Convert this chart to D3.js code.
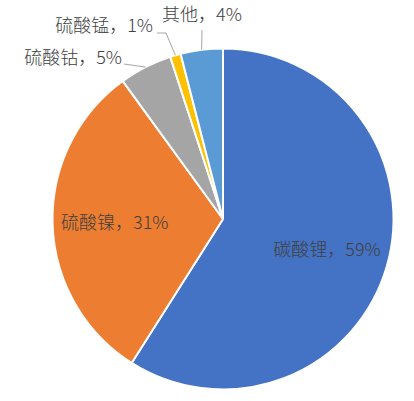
<!DOCTYPE html>
<html>
<head>
<meta charset="utf-8">
<script src="https://cdn.jsdelivr.net/npm/d3@7"></script>
<style>
  html, body { margin: 0; padding: 0; background: #fff; }
  svg { display: block; }
</style>
</head>
<body>
<div class="canvas-graph"></div>
<script>
const categories = ['碳酸锂', '硫酸镍', '硫酸钴', '硫酸锰', '其他'];
const shares = [59, 31, 5, 1, 4];
const colors = ['#4472C4', '#ED7D31', '#A5A5A5', '#FFC000', '#5B9BD5'];

const dims = { width: 414, height: 401, radius: 170.5 };
const cent = { x: 223, y: 219 };

const pieData = categories.map((c, i) => ({ type: c, value: shares[i] }));

const svg = d3.select('.canvas-graph')
    .append('svg')
    .attr('width', dims.width)
    .attr('height', dims.height);

const graph = svg.append('g')
    .attr('transform', `translate(${cent.x}, ${cent.y})`);

const pie = d3.pie()
    .sort(null)
    .value(d => d.value);

const arcPath = d3.arc()
    .outerRadius(dims.radius)
    .innerRadius(0);

const edgeArc = d3.arc()
    .outerRadius(dims.radius)
    .innerRadius(dims.radius);

const labelArc = d3.arc()
    .outerRadius(dims.radius * 0.635)
    .innerRadius(dims.radius * 0.635);

const color = d3.scaleOrdinal(colors).domain(categories);

const arcs = pie(pieData);

graph.selectAll('path')
    .data(arcs)
    .enter()
    .append('path')
    .attr('d', arcPath)
    .attr('stroke', '#fff')
    .attr('stroke-width', 2)
    .attr('stroke-linejoin', 'round')
    .attr('fill', d => color(d.data.type));

// outside labels for the thin slices (offsets relative to pie centre)
const outside = {
    '硫酸钴': { lx: -101, ly: -161.5, anchor: 'end', line: [[-99, -155]] },
    '硫酸锰': { lx: -70, ly: -193, anchor: 'end', line: [[-57, -186], [-66, -186]] },
    '其他': { lx: -21, ly: -204.5, anchor: 'middle', line: [[-21, -189]] }
};

const fontSize = 18;
const labels = svg.append('g')
    .attr('font-family', '"Noto Sans CJK SC", "Noto Sans", sans-serif')
    .attr('font-size', fontSize)
    .attr('font-weight', 300)
    .attr('fill', '#404040');

const lineGen = d3.line();

arcs.forEach(d => {
    const text = `${d.data.type}，${d.data.value}%`;
    const o = outside[d.data.type];
    if (o) {
        const pts = [edgeArc.centroid(d)].concat(o.line)
            .map(p => [p[0] + cent.x, p[1] + cent.y]);
        svg.append('path')
            .attr('d', lineGen(pts))
            .attr('fill', 'none')
            .attr('stroke', '#A6A6A6')
            .attr('stroke-width', 1);
        labels.append('text')
            .attr('x', cent.x + o.lx)
            .attr('y', cent.y + o.ly)
            .attr('dy', '0.36em')
            .attr('text-anchor', o.anchor)
            .text(text);
    } else {
        const [x, y] = labelArc.centroid(d);
        labels.append('text')
            .attr('x', cent.x + x)
            .attr('y', cent.y + y)
            .attr('dy', '0.36em')
            .attr('text-anchor', 'middle')
            .text(text);
    }
});
</script>
</body>
</html>
